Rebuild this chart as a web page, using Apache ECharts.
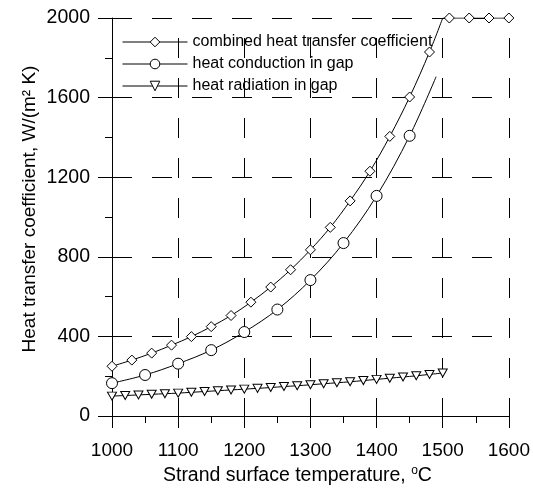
<!DOCTYPE html>
<html><head><meta charset="utf-8">
<script src="https://cdn.jsdelivr.net/npm/echarts@6/dist/echarts.min.js"></script>
<style>html,body{margin:0;padding:0;background:#fff}#c{width:533px;height:491px}</style>
</head><body><div id="c"></div>
<script>
// ---- data ----
const xTickValues = [1000, 1100, 1200, 1300, 1400, 1500, 1600];
const yTickValues = [0, 400, 800, 1200, 1600, 2000];

const combinedName = 'combined heat transfer coefficient';
const combinedX = [1000, 1030, 1060, 1090, 1120, 1150, 1180, 1210, 1240, 1270, 1300, 1330, 1360, 1390, 1420, 1450, 1480];
const combinedY = [250, 281, 316, 356, 399, 449, 505, 572, 648, 735, 835, 948, 1081, 1230, 1405, 1603, 1829];
const combinedCurveEnd = [1500, 2000];
const combinedFlatX = [1510, 1540, 1570, 1600];
const combinedFlatY = [2000, 2000, 2000, 2000];

const conductionName = 'heat conduction in gap';
const conductionX = [1000, 1050, 1100, 1150, 1200, 1250, 1300, 1350, 1400, 1450];
const conductionY = [165, 206, 263, 331, 422, 535, 683, 869, 1106, 1408];
const conductionCurveEnd = [1490, 1705];

const radiationName = 'heat radiation in gap';
const radiationX = [1000, 1020, 1040, 1060, 1080, 1100, 1120, 1140, 1160, 1180, 1200, 1220, 1240,
                    1260, 1280, 1300, 1320, 1340, 1360, 1380, 1400, 1420, 1440, 1460, 1480, 1500];
const radiationY = [100, 103, 106, 109, 112, 115, 119, 123, 127, 131, 135, 139, 143,
                    148, 152, 157, 162, 167, 172, 178, 184, 190, 196, 202, 209, 216];

// ---- chart ----
const FONT = 'Liberation Sans, Arial, sans-serif';
const pairs = (xs, ys) => xs.map((x, i) => [x, ys[i]]);
const noSym = p => ({ value: p, symbol: 'none' });

const lineStyle = { color: '#000', width: 1 };
const itemStyle = { color: '#fff', borderColor: '#000', borderWidth: 1 };

const chart = echarts.init(document.getElementById('c'), null, { renderer: 'canvas' });
chart.setOption({
  animation: false,
  backgroundColor: '#fff',
  textStyle: { fontFamily: FONT, color: '#000' },
  grid: { left: 112, right: 23, top: 18, bottom: 72 },
  legend: {
    data: [combinedName, conductionName, radiationName],
    orient: 'vertical', left: 117, top: 29,
    itemWidth: 65, itemHeight: 12, itemGap: 6,
    selectedMode: false,
    lineStyle: { width: 1, color: '#000' },
    itemStyle: { color: '#fff', borderColor: '#000', borderWidth: 1 },
    textStyle: { fontFamily: FONT, fontSize: 16, color: '#000', lineHeight: 16 }
  },
  xAxis: {
    type: 'value', min: xTickValues[0], max: xTickValues[xTickValues.length - 1], interval: 100,
    offset: 3,
    name: 'Strand surface temperature, {s|o}C',
    nameLocation: 'middle', nameGap: 46, nameMoveOverlap: false,
    nameTextStyle: { fontFamily: FONT, fontSize: 19.5, color: '#000', lineHeight: 21, padding: [0, 26, 0, 0],
      rich: { s: { fontFamily: FONT, fontSize: 12, color: '#000', verticalAlign: 'top', lineHeight: 12 } } },
    axisLine: { lineStyle: { color: '#000', width: 1 } },
    axisTick: { show: true, length: 12, lineStyle: { color: '#000' } },
    minorTick: { show: true, splitNumber: 2, length: 7, lineStyle: { color: '#000' } },
    axisLabel: { fontFamily: FONT, fontSize: 19, color: '#000', margin: 22, formatter: v => String(v) },
    splitLine: { show: true, lineStyle: { color: '#000', width: 1, type: [20, 20], dashOffset: 20 } }
  },
  yAxis: {
    type: 'value', min: yTickValues[0], max: yTickValues[yTickValues.length - 1], interval: 400,
    name: 'Heat transfer coefficient, W/(m² K)',
    nameLocation: 'middle', nameGap: 73, nameMoveOverlap: false,
    nameTextStyle: { fontFamily: FONT, fontSize: 19, color: '#000', padding: [0, 0, 0, 16] },
    axisLine: { show: true, lineStyle: { color: '#000', width: 1 } },
    axisTick: { show: true, length: 14, lineStyle: { color: '#000' } },
    minorTick: { show: true, splitNumber: 2, length: 7, lineStyle: { color: '#000' } },
    axisLabel: { fontFamily: FONT, fontSize: 19.5, color: '#000', margin: 22, formatter: v => String(v) },
    splitLine: { show: true, lineStyle: { color: '#000', width: 1, type: [20, 20], dashOffset: 0 } }
  },
  series: [
    {
      name: combinedName, type: 'line', smooth: 0.35,
      data: pairs(combinedX, combinedY).concat([noSym(combinedCurveEnd)]),
      symbol: 'diamond', symbolSize: 10, showAllSymbol: true,
      lineStyle, itemStyle, z: 3
    },
    {
      name: combinedName, type: 'line', smooth: false,
      data: [noSym(combinedCurveEnd)].concat(pairs(combinedFlatX, combinedFlatY)),
      symbol: 'diamond', symbolSize: 10, showAllSymbol: true,
      lineStyle, itemStyle, z: 3
    },
    {
      name: conductionName, type: 'line', smooth: 0.35,
      data: pairs(conductionX, conductionY).concat([noSym(conductionCurveEnd)]),
      symbol: 'circle', symbolSize: 11, showAllSymbol: true,
      lineStyle, itemStyle, z: 3
    },
    {
      name: radiationName, type: 'line', smooth: 0.35,
      data: pairs(radiationX, radiationY),
      symbol: 'triangle', symbolRotate: 180, symbolSize: [9, 8], showAllSymbol: true,
      lineStyle, itemStyle, z: 3
    }
  ]
});
</script>
</body></html>
